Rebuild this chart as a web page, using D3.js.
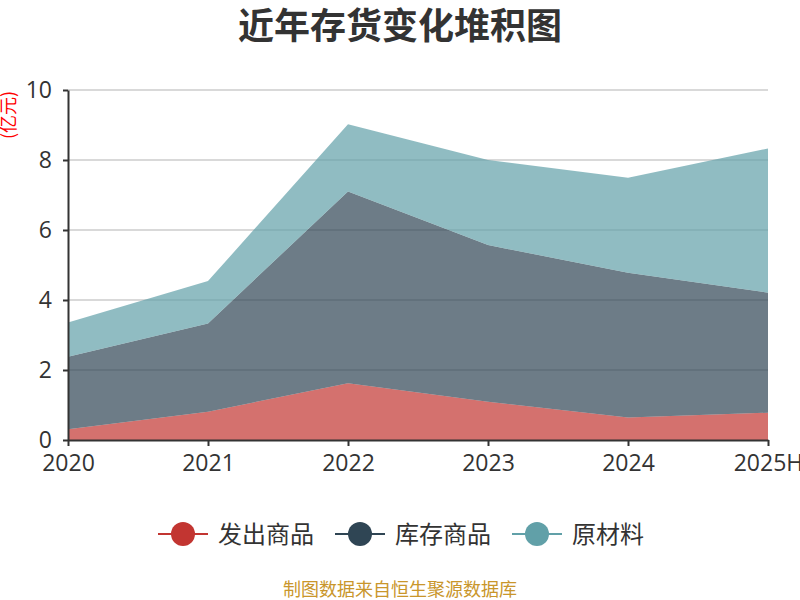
<!DOCTYPE html>
<html>
<head>
<meta charset="utf-8">
<script src="https://cdn.jsdelivr.net/npm/d3@7"></script>
<style>
  body { margin: 0; background: #fff; }
  svg { font-family: "Noto Sans CJK SC", "Open Sans", sans-serif; }
</style>
</head>
<body>
<script>
const YEARS = ["2020", "2021", "2022", "2023", "2024", "2025H"];
const SERIES = ["发出商品", "库存商品", "原材料"];
const SHIPPED = [0.31, 0.81, 1.62, 1.09, 0.64, 0.78];
const GOODS = [2.07, 2.52, 5.48, 4.48, 4.14, 3.43];
const MATERIALS = [0.98, 1.21, 1.92, 2.43, 2.71, 4.12];
const Y_TICKS = [0, 2, 4, 6, 8, 10];
const COLORS = ["#c23531", "#2f4554", "#61a0a8"];

const width = 800,
  height = 600,
  margin = { left: 68, right: 32, top: 90, bottom: 160 };

const rows = YEARS.map((y, i) => ({
  year: y,
  [SERIES[0]]: SHIPPED[i],
  [SERIES[1]]: GOODS[i],
  [SERIES[2]]: MATERIALS[i]
}));

const svg = d3
  .select("body")
  .append("svg")
  .attr("width", width)
  .attr("height", height);

svg
  .append("text")
  .attr("x", width / 2)
  .attr("y", 39)
  .attr("text-anchor", "middle")
  .attr("font-size", 36)
  .attr("font-weight", "bold")
  .attr("fill", "#333")
  .text("近年存货变化堆积图");

const xScale = d3
  .scalePoint()
  .domain(YEARS)
  .range([margin.left, width - margin.right]);

const yScale = d3
  .scaleLinear()
  .domain([0, 10])
  .range([height - margin.bottom, margin.top]);

// grid lines
svg
  .append("g")
  .selectAll("line")
  .data(Y_TICKS.filter(d => d > 0))
  .join("line")
  .attr("x1", margin.left)
  .attr("x2", width - margin.right)
  .attr("y1", d => yScale(d))
  .attr("y2", d => yScale(d))
  .attr("stroke", "#ccc")
  .attr("stroke-width", 1.5);

const stack = d3.stack().keys(SERIES);
const layers = stack(rows);

const area = d3
  .area()
  .x(d => xScale(d.data.year))
  .y0(d => yScale(d[0]))
  .y1(d => yScale(d[1]));

svg
  .append("g")
  .selectAll("path")
  .data(layers)
  .join("path")
  .attr("d", area)
  .attr("fill", (d, i) => COLORS[i])
  .attr("fill-opacity", 0.7);

const yAxis = d3
  .axisLeft(yScale)
  .tickValues(Y_TICKS)
  .tickSize(5)
  .tickSizeOuter(0);

const gy = svg
  .append("g")
  .attr("transform", `translate(${margin.left}, 0)`)
  .call(yAxis);
gy.select(".domain").attr("stroke", "#333").attr("stroke-width", 2);
gy.selectAll(".tick line").attr("stroke", "#333").attr("stroke-width", 2);
gy.selectAll(".tick text")
  .attr("font-size", 23)
  .attr("fill", "#333")
  .attr("x", -16)
  .attr("font-family", "Open Sans, sans-serif");

const xAxis = d3.axisBottom(xScale).tickSize(6).tickSizeOuter(0);

const gx = svg
  .append("g")
  .attr("transform", `translate(0, ${height - margin.bottom})`)
  .call(xAxis);
gx.select(".domain").attr("stroke", "#333").attr("stroke-width", 2);
gx.selectAll(".tick line").attr("stroke", "#333").attr("stroke-width", 2);
gx.selectAll(".tick text")
  .attr("font-size", 23)
  .attr("fill", "#333")
  .attr("y", 15)
  .attr("font-family", "Open Sans, sans-serif");

// unit label
svg
  .append("text")
  .attr("transform", "translate(15, 115) rotate(-90)")
  .attr("text-anchor", "middle")
  .attr("font-size", 18)
  .attr("fill", "red")
  .text("(亿元)");

// legend
const legendX = [158, 335, 512];
const legend = svg
  .append("g")
  .selectAll("g")
  .data(SERIES)
  .join("g")
  .attr("transform", (d, i) => `translate(${legendX[i]}, 534)`);

legend
  .append("line")
  .attr("x1", 0)
  .attr("x2", 50)
  .attr("stroke", (d, i) => COLORS[i])
  .attr("stroke-width", 2);

legend
  .append("circle")
  .attr("cx", 25)
  .attr("r", 12)
  .attr("fill", (d, i) => COLORS[i]);

legend
  .append("text")
  .attr("x", 60)
  .attr("dy", "0.36em")
  .attr("font-size", 24)
  .attr("fill", "#333")
  .text(d => d);

svg
  .append("text")
  .attr("x", width / 2)
  .attr("y", 596)
  .attr("text-anchor", "middle")
  .attr("font-size", 18)
  .attr("fill", "#c9962b")
  .text("制图数据来自恒生聚源数据库");
</script>
</body>
</html>
